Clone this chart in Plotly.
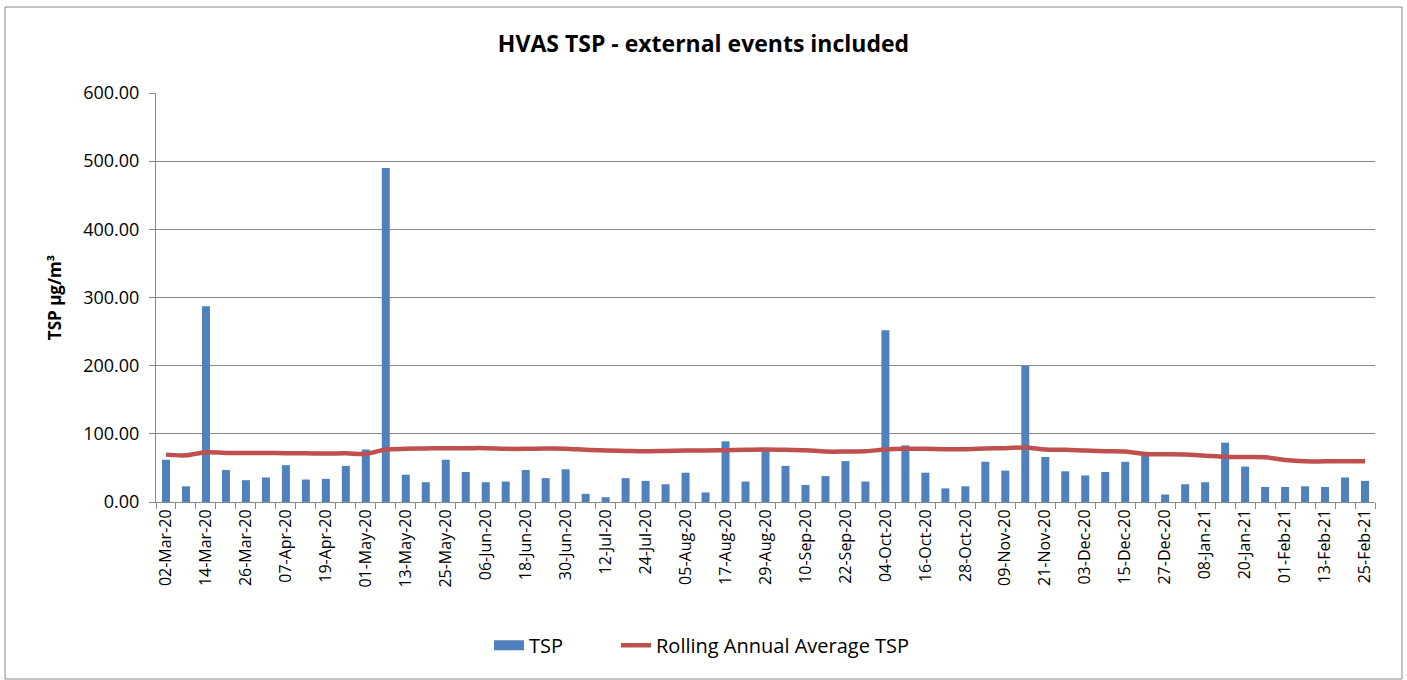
import plotly.graph_objects as go

dates = ["02-Mar-20", "08-Mar-20", "14-Mar-20", "20-Mar-20", "26-Mar-20", "01-Apr-20", "07-Apr-20",
         "13-Apr-20", "19-Apr-20", "25-Apr-20", "01-May-20", "07-May-20", "13-May-20", "19-May-20",
         "25-May-20", "31-May-20", "06-Jun-20", "12-Jun-20", "18-Jun-20", "24-Jun-20", "30-Jun-20",
         "06-Jul-20", "12-Jul-20", "18-Jul-20", "24-Jul-20", "30-Jul-20", "05-Aug-20", "11-Aug-20",
         "17-Aug-20", "23-Aug-20", "29-Aug-20", "04-Sep-20", "10-Sep-20", "16-Sep-20", "22-Sep-20",
         "28-Sep-20", "04-Oct-20", "10-Oct-20", "16-Oct-20", "22-Oct-20", "28-Oct-20", "03-Nov-20",
         "09-Nov-20", "15-Nov-20", "21-Nov-20", "27-Nov-20", "03-Dec-20", "09-Dec-20", "15-Dec-20",
         "21-Dec-20", "27-Dec-20", "02-Jan-21", "08-Jan-21", "14-Jan-21", "20-Jan-21", "26-Jan-21",
         "01-Feb-21", "07-Feb-21", "13-Feb-21", "19-Feb-21", "25-Feb-21"]

tsp = [62, 23, 287, 47, 32, 36, 54, 33, 34, 53,
       77, 490, 40, 29, 62, 44, 29, 30, 47, 35,
       48, 12, 7, 35, 31, 26, 43, 14, 89, 30,
       75, 53, 25, 38, 60, 30, 252, 83, 43, 20,
       23, 59, 46, 200, 66, 45, 39, 44, 59, 68,
       11, 26, 29, 87, 52, 22, 22, 23, 22, 36, 31]

rolling = [69.5, 68.5, 73, 72, 72, 72, 71.5, 71.5, 71, 71.5,
           70.5, 77, 78, 78.5, 79, 79, 79, 78, 78, 78.5,
           78.3, 76.5, 75.5, 75, 74.5, 75, 75.5, 75.5, 76, 76.5,
           77, 76.5, 76, 74, 74, 74.4, 77, 78, 78, 77.5,
           77.5, 78.5, 79, 80, 77, 76.5, 75.4, 74.5, 74, 70.4,
           70, 69.5, 68, 66.5, 66, 65.5, 61.6, 59.6, 59.6, 59.8, 59.6]

tick_text = [d if i % 2 == 0 else "" for i, d in enumerate(dates)]

FONT = "Open Sans"
GRAY = "#8a8a8a"
BLUE = "#4F81BD"
RED = "#C0504D"

fig = go.Figure()
fig.add_trace(go.Bar(x=dates, y=tsp, name="TSP", marker_color=BLUE,
                     marker_line_width=0, showlegend=False))
fig.add_trace(go.Scatter(x=[None], y=[None], name="TSP", mode="lines",
                         line=dict(color=BLUE, width=12), showlegend=True, legend="legend"))
fig.add_trace(go.Scatter(x=dates, y=rolling, name="Rolling Annual Average TSP",
                         mode="lines", line=dict(color=RED, width=4.5, shape="spline"),
                         legend="legend2"))

leg_common = dict(orientation="h", xanchor="left", y=-0.35, yanchor="middle",
                  font=dict(family=FONT, size=20), bgcolor="rgba(0,0,0,0)")

fig.update_layout(
    width=1407, height=680,
    margin=dict(l=156, r=32, t=93, b=178),
    paper_bgcolor="white", plot_bgcolor="white",
    font=dict(family=FONT, size=14, color="black"),
    title=dict(text="<b>HVAS TSP - external events included</b>", x=0.5, xref="container",
               xanchor="center", y=1 - 44 / 680, yanchor="middle",
               font=dict(family=FONT, size=23, color="black")),
    bargap=0.6,
    showlegend=True,
    legend=dict(x=(489 - 156) / 1219, **leg_common),
    legend2=dict(x=(616 - 156) / 1219, **leg_common),
    xaxis=dict(type="category", tickmode="array", tickvals=dates, ticktext=tick_text,
               tickangle=-90, tickson="boundaries", ticks="outside", ticklen=6,
               tickcolor=GRAY, showline=True, linecolor=GRAY, linewidth=1,
               showgrid=False, tickfont=dict(size=16)),
    yaxis=dict(range=[0, 600], dtick=100, tickformat=".2f", showgrid=True,
               gridcolor=GRAY, gridwidth=1, showline=True, linecolor=GRAY, linewidth=1,
               ticks="outside", ticklen=6, tickcolor=GRAY, zeroline=False,
               tickfont=dict(size=18), ticklabelstandoff=6,
               title=dict(text="<b>TSP µg/m³</b>", font=dict(size=17), standoff=17)),
)

fig.add_shape(type="rect", xref="paper", yref="paper",
              x0=-151 / 1219, x1=1246 / 1219, y0=-177 / 409, y1=495 / 409,
              line=dict(color=GRAY, width=1), fillcolor="rgba(0,0,0,0)", layer="below")

fig.write_html("out.html", config={"displayModeBar": False},
               post_script="document.body.style.margin='0';document.body.style.overflow='hidden';")
